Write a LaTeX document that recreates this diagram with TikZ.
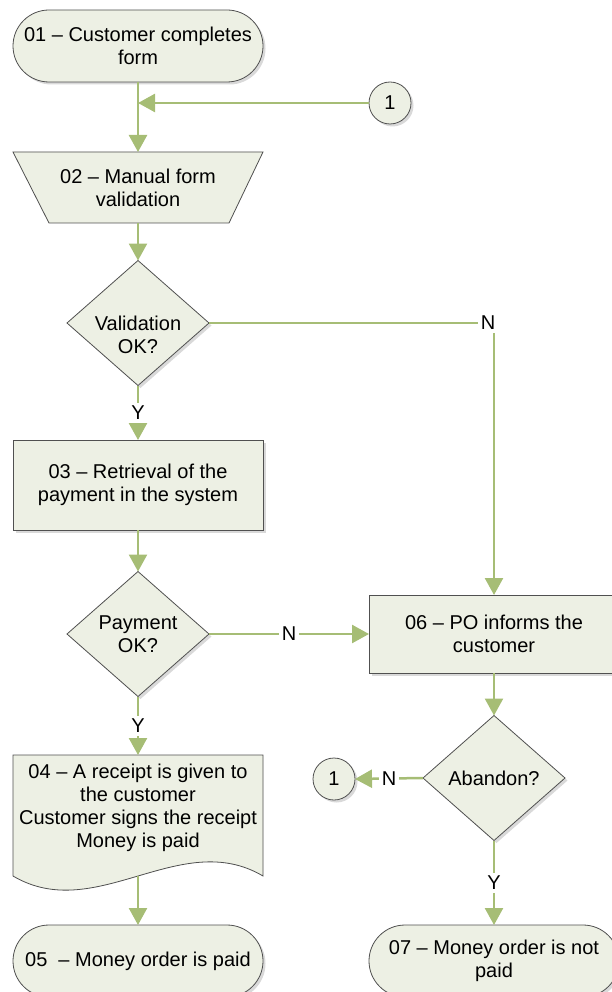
\documentclass[tikz,border=0pt]{standalone}
\usepackage{fontspec}
\setmainfont{Liberation Sans}
\usetikzlibrary{shapes.geometric,arrows.meta,shadows}
\definecolor{boxfill}{RGB}{237,240,228}
\definecolor{boxline}{RGB}{80,80,80}
\definecolor{flow}{RGB}{166,189,117}
\begin{document}
\begin{tikzpicture}[x=1pt,y=-1pt,
  font=\fontsize{20}{23}\selectfont,
  every node/.style={align=center, inner sep=0pt, outer sep=0pt},
  softshadow/.style={drop shadow={shadow xshift=2.5pt, shadow yshift=-2.5pt, opacity=0.25, fill=black!60}},
  shapebase/.style={draw=boxline, line width=0.8pt, fill=boxfill, softshadow},
  terminal/.style={shapebase, rectangle, rounded corners=36pt, minimum width=250pt, minimum height=72pt},
  process/.style={shapebase, rectangle, minimum width=250pt},
  decision/.style={shapebase, diamond, minimum width=142pt, minimum height=125pt},
  pageref/.style={shapebase, circle, minimum size=42pt},
  flowline/.style={draw=flow, line width=2.5pt, -{Triangle[length=17pt,width=18pt]}},
  lbl/.style={fill=white, inner sep=3pt}
]
\useasboundingbox (0,0) rectangle (611,992);

% left column
\node[terminal] (n01) at (138,46) {01 – Customer completes\\form};
\node[pageref] (c1) at (390,103) {1};
\coordinate (j1) at (138,103);

% manual operation (inverted trapezoid) for step 02
\node[minimum width=250pt, minimum height=71pt] (n02) at (138,187.5) {};
\fill[black!60, opacity=0.25, shift={(2.5,2.5)}]
  (n02.north west) -- (n02.north east) -- ([xshift=-34pt]n02.south east)
  -- ([xshift=36pt]n02.south west) -- cycle;
\draw[boxline, fill=boxfill, line width=0.8pt]
  (n02.north west) -- (n02.north east) -- ([xshift=-34pt]n02.south east)
  -- ([xshift=36pt]n02.south west) -- cycle;
\node (t02) at (n02) {02 – Manual form\\validation};

\node[decision] (d1) at (138,323) {};
\node (t1) at (138,335) {Validation\\OK?};
\node[process, minimum height=90pt] (n03) at (138,485) {03 – Retrieval of the\\payment in the system};
\node[decision] (d2) at (138,634) {Payment\\OK?};

% document shape for step 04
\node[minimum width=250pt, minimum height=121pt] (n04) at (138,815.5) {};
\fill[black!60, opacity=0.25, shift={(2.5,2.5)}]
  (n04.north west) -- (n04.north east) -- (n04.south east)
  .. controls +(-83,-49) and +(83,49) .. (n04.south west) -- cycle;
\draw[boxline, fill=boxfill, line width=0.8pt]
  (n04.north west) -- (n04.north east) -- (n04.south east)
  .. controls +(-83,-49) and +(83,49) .. (n04.south west) -- cycle;
\node (t04) at (138,808) {04 – A receipt is given to\\the customer\\Customer signs the receipt\\Money is paid};

\node[terminal] (n05) at (138,961) {05\ \ – Money order is paid};

% right column
\node[process, minimum height=78pt] (n06) at (494,634) {06 – PO informs the\\customer};
\node[decision] (d3) at (494,778) {Abandon?};
\node[pageref] (c2) at (334,779) {1};
\node[terminal] (n07) at (494,961) {07 – Money order is not\\paid};

% connectors
\draw[flowline] (n01.south) -- (n02.north);
\draw[flowline] (c1.west) -- (j1);
\draw[flowline] (n02.south) -- (d1.north);
\draw[flowline] (d1.south) -- node[lbl]{Y} (n03.north);
\draw[flowline] (d1.east) -| (n06.north);
\node[lbl] at (488,323) {N};
\draw[flowline] (n03.south) -- (d2.north);
\draw[flowline] (d2.east) -- node[lbl]{N} (n06.west);
\draw[flowline] (d2.south) -- node[lbl]{Y} (n04.north);
\draw[flowline] (n04.south) -- (n05.north);
\draw[flowline] (n06.south) -- (d3.north);
\draw[flowline] (d3.west) -- node[lbl]{N} (c2.east);
\draw[flowline] (d3.south) -- node[lbl]{Y} (n07.north);
\end{tikzpicture}
\end{document}
